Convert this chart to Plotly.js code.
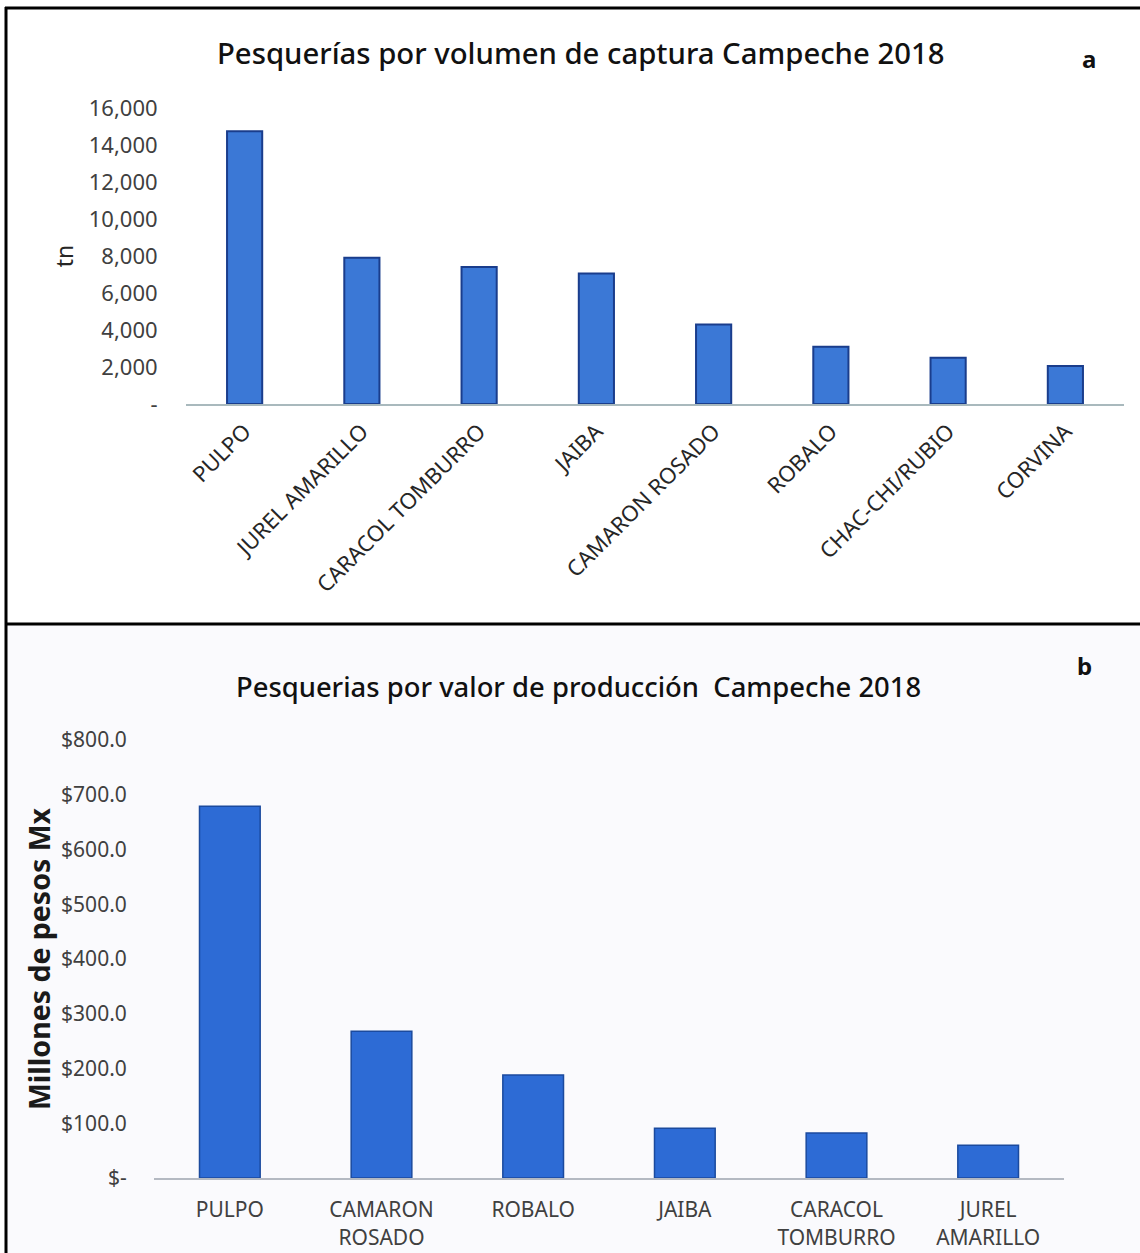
<!DOCTYPE html>
<html>
<head>
<meta charset="utf-8">
<script src="https://cdn.plot.ly/plotly-3.0.1.min.js"></script>
<style>
html,body{margin:0;padding:0;background:#fff;}
#chart{width:1140px;height:1253px;}
</style>
</head>
<body>
<div id="chart"></div>
<script>
// Panel a: volume (tn)
const catsVolume = ["PULPO","JUREL AMARILLO","CARACOL TOMBURRO","JAIBA","CAMARON ROSADO","ROBALO","CHAC-CHI/RUBIO","CORVINA"];
const volumeTn = [14750, 7900, 7400, 7050, 4300, 3100, 2500, 2050];
const volTickVals = [0, 2000, 4000, 6000, 8000, 10000, 12000, 14000, 16000];
const volTickText = ["-", "2,000", "4,000", "6,000", "8,000", "10,000", "12,000", "14,000", "16,000"];

// Panel b: value (millones de pesos)
const catsValue = ["PULPO","CAMARON<br>ROSADO","ROBALO","JAIBA","CARACOL<br>TOMBURRO","JUREL<br>AMARILLO"];
const valueMx = [679, 268, 188, 91, 82, 60];
const valTickVals = [0, 100, 200, 300, 400, 500, 600, 700, 800];
const valTickText = ["$-", "$100.0", "$200.0", "$300.0", "$400.0", "$500.0", "$600.0", "$700.0", "$800.0"];

const W = 1140, H = 1253;
const px = v => v / W;
const py = v => 1 - v / H;
const FONT = "Noto Sans, Open Sans, sans-serif";

const traces = [
  {
    type: "bar", x: catsVolume, y: volumeTn, xaxis: "x", yaxis: "y",
    width: 0.3,
    marker: {color: "#3b78d6", line: {color: "#1a3d8c", width: 2}},
    hoverinfo: "x+y", showlegend: false
  },
  {
    type: "bar", x: catsValue, y: valueMx, xaxis: "x2", yaxis: "y2",
    width: 0.4,
    marker: {color: "#2d6bd5", line: {color: "#1b4a9e", width: 1.5}},
    hoverinfo: "x+y", showlegend: false
  }
];

const layout = {
  width: W, height: H,
  margin: {l: 0, r: 0, t: 0, b: 0},
  paper_bgcolor: "#ffffff",
  plot_bgcolor: "rgba(0,0,0,0)",
  font: {family: FONT, color: "#404040"},
  xaxis: {
    domain: [px(186), px(1124)],
    anchor: "y",
    type: "category",
    tickangle: -45,
    tickfont: {size: 22, color: "#262626"},
    showline: true, linecolor: "#a9b9bd", linewidth: 2,
    showgrid: false, zeroline: false,
    ticks: "outside", ticklen: 4, tickcolor: "rgba(0,0,0,0)",
    fixedrange: true
  },
  yaxis: {
    domain: [py(404), py(108)],
    anchor: "x",
    range: [0, 16000],
    tickvals: volTickVals, ticktext: volTickText,
    tickfont: {size: 22, color: "#404040"},
    showline: false, showgrid: false, zeroline: false,
    ticks: "outside", ticklen: 23, tickcolor: "rgba(0,0,0,0)",
    title: {text: "tn", font: {size: 23, color: "#262626"}, standoff: 8},
    fixedrange: true
  },
  xaxis2: {
    domain: [px(154), px(1064)],
    anchor: "y2",
    type: "category",
    tickangle: 0,
    tickfont: {size: 21, color: "#404040"},
    showline: true, linecolor: "#b4b9c2", linewidth: 2,
    showgrid: false, zeroline: false,
    ticks: "outside", ticklen: 12, tickcolor: "rgba(0,0,0,0)",
    fixedrange: true
  },
  yaxis2: {
    domain: [py(1178), py(740)],
    anchor: "x2",
    range: [0, 800],
    tickvals: valTickVals, ticktext: valTickText,
    tickfont: {size: 21, color: "#404040"},
    showline: false, showgrid: false, zeroline: false,
    ticks: "outside", ticklen: 22, tickcolor: "rgba(0,0,0,0)",
    title: {text: "<b>Millones de pesos Mx</b>", font: {size: 28.5, color: "#1a1a1a"}, standoff: 2},
    fixedrange: true
  },
  annotations: [
    {text: "Pesquerías por volumen de captura Campeche 2018", xref: "paper", yref: "paper",
     x: px(580), y: py(53), xanchor: "center", yanchor: "middle", showarrow: false,
     font: {size: 29.3, color: "#111", family: FONT, weight: 500}},
    {text: "<b>a</b>", xref: "paper", yref: "paper", x: px(1089), y: py(59),
     xanchor: "center", yanchor: "middle", showarrow: false, font: {size: 24, color: "#111"}},
    {text: "Pesquerias por valor de producción&nbsp; Campeche 2018", xref: "paper", yref: "paper",
     x: px(578), y: py(686), xanchor: "center", yanchor: "middle", showarrow: false,
     font: {size: 27.4, color: "#111", family: FONT, weight: 500}},
    {text: "<b>b</b>", xref: "paper", yref: "paper", x: px(1084), y: py(665),
     xanchor: "center", yanchor: "middle", showarrow: false, font: {size: 24, color: "#111"}}
  ],
  shapes: [
    // bottom panel background tint
    {type: "rect", xref: "paper", yref: "paper", x0: px(6), x1: 1, y0: 0, y1: py(624),
     fillcolor: "#fafafd", line: {width: 0}, layer: "below"},
    // outer frame
    {type: "line", xref: "paper", yref: "paper", x0: px(5), x1: 1, y0: py(8), y1: py(8),
     line: {color: "#000", width: 3}},
    {type: "line", xref: "paper", yref: "paper", x0: px(6), x1: px(6), y0: 0, y1: py(7),
     line: {color: "#000", width: 3}},
    // divider
    {type: "line", xref: "paper", yref: "paper", x0: px(5), x1: 1, y0: py(624), y1: py(624),
     line: {color: "#000", width: 3}}
  ]
};

Plotly.newPlot("chart", traces, layout, {displayModeBar: false, staticPlot: true});
</script>
</body>
</html>
